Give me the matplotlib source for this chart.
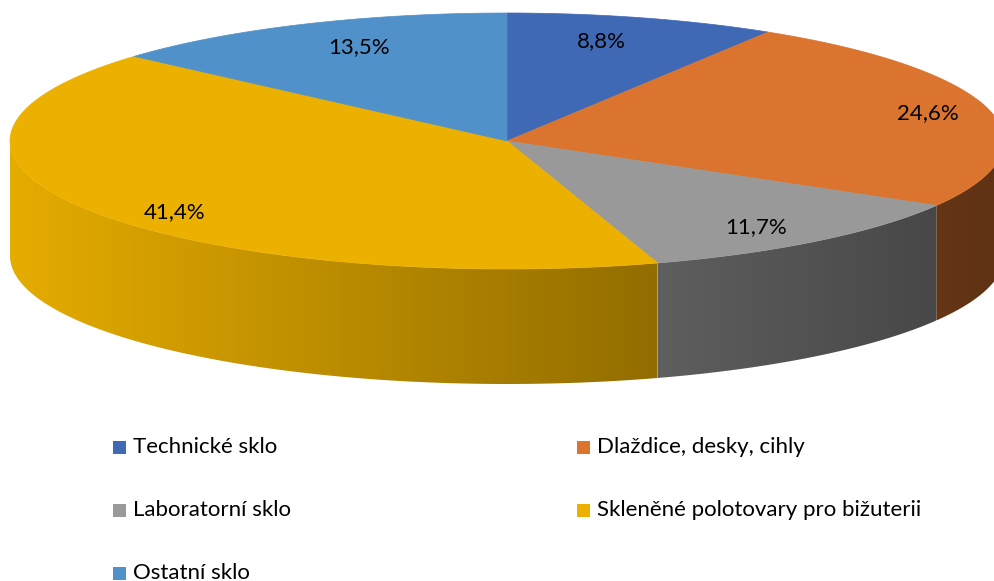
import numpy as np
import matplotlib.pyplot as plt
from matplotlib.patches import Polygon, Rectangle
from matplotlib.colors import to_rgb

categories = ['Technické sklo', 'Dlaždice, desky, cihly', 'Laboratorní sklo',
              'Skleněné polotovary pro bižuterii', 'Ostatní sklo']
shares = [8.8, 24.6, 11.7, 41.4, 13.5]
labels = ['8,8%', '24,6%', '11,7%', '41,4%', '13,5%']
colors = ['#3F69B5', '#DA742E', '#999999', '#ECB100', '#5191C9']
# posun popisku oproti vychozi poloze (px)
label_nudge = [(-14, -1), (35, -3), (0, 6), (1, 15), (16, -1)]

plt.rcParams['font.family'] = ['Lato', 'DejaVu Sans']

fig = plt.figure(figsize=(9.95, 5.81), dpi=100)
ax = fig.add_axes([0, 0, 1, 1])
ax.set_xlim(0, 995)
ax.set_ylim(581, 0)
ax.axis('off')

# geometrie elipsy (v pixelech)
cx, cy, rx, ry, depth = 507, 141, 497, 128, 115


def arc(a, b, n=200, dy=0):
    t = np.radians(np.linspace(a, b, n))
    return np.column_stack([cx + rx * np.sin(t), cy - ry * np.cos(t) + dy])


bounds = np.concatenate([[0], np.cumsum(shares)]) / sum(shares) * 360

# bocni steny (jen predni polovina 90..270 stupnu)
for i, c in enumerate(colors):
    a, b = max(bounds[i], 90), min(bounds[i + 1], 270)
    if a >= b:
        continue
    pts = np.vstack([arc(a, b), arc(b, a, dy=depth)])
    poly = Polygon(pts, closed=True, facecolor='none', edgecolor='none')
    ax.add_patch(poly)
    x0, x1 = pts[:, 0].min(), pts[:, 0].max()
    xs = np.linspace(x0, x1, 300)
    shade = 0.70 - 0.27 * (xs - cx) / rx
    img = np.clip(np.array(to_rgb(c))[None, :] * shade[:, None], 0, 1)[None, :, :]
    im = ax.imshow(img, extent=[x0, x1, pts[:, 1].max(), pts[:, 1].min()],
                   aspect='auto', interpolation='bilinear', zorder=1)
    im.set_clip_path(poly)

# horni plocha
for i, c in enumerate(colors):
    pts = np.vstack([[cx, cy], arc(bounds[i], bounds[i + 1])])
    ax.add_patch(Polygon(pts, closed=True, facecolor=c, edgecolor=c,
                         linewidth=0.5, zorder=2))

# popisky procent
for i, lab in enumerate(labels):
    mid = np.radians((bounds[i] + bounds[i + 1]) / 2)
    x = cx + 0.8 * rx * np.sin(mid) + label_nudge[i][0]
    y = cy - 0.8 * ry * np.cos(mid) + label_nudge[i][1]
    ax.text(x, y, lab, ha='center', va='center', fontsize=16, color='black', zorder=3)

# legenda (po radcich, 2 sloupce)
for i, (name, c) in enumerate(zip(categories, colors)):
    col, row = i % 2, i // 2
    lx = 113 + col * 464
    ly = 447 + row * 63
    ax.add_patch(Rectangle((lx, ly - 6.5), 13, 13, facecolor=c, edgecolor='none'))
    ax.text(lx + 20, ly, name, ha='left', va='center', fontsize=16, color='black')

fig.savefig('out.png', dpi=100)
